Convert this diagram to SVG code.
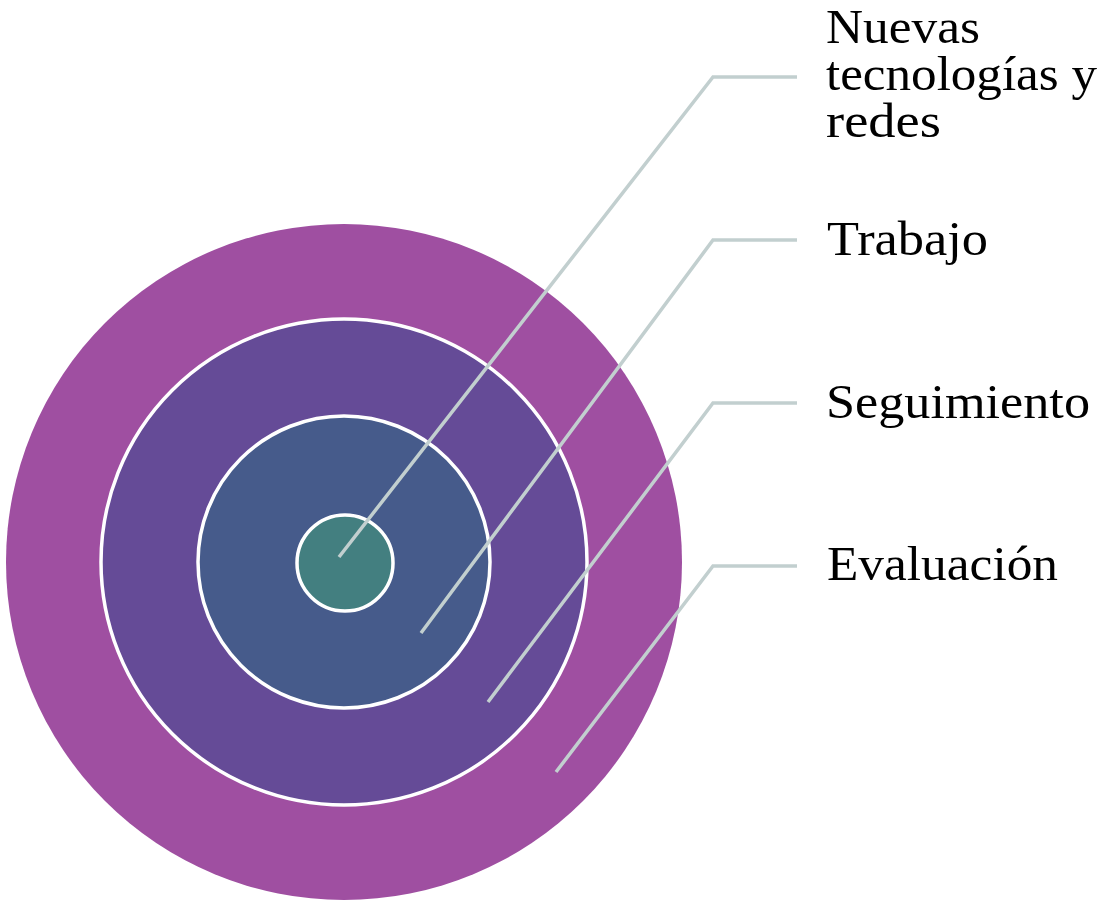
<svg xmlns="http://www.w3.org/2000/svg" width="1105" height="900" viewBox="0 0 1105 900">
<style>
.ring{stroke:#ffffff;stroke-width:3.5}
.conn{fill:none;stroke:#C2CFCF;stroke-width:3.5;stroke-linejoin:miter}
.lbl{font-family:"Liberation Serif","Times New Roman",serif;font-size:48.5px;fill:#000000}
</style>
<rect width="1105" height="900" fill="#ffffff"/>
<g id="node-evaluacion">
<circle cx="344" cy="562" r="338" fill="#9F4FA1"/>
</g>
<g id="node-seguimiento">
<circle class="ring" cx="344" cy="562" r="243" fill="#654B97"/>
</g>
<g id="node-trabajo">
<circle class="ring" cx="344" cy="562" r="146" fill="#465B8B"/>
</g>
<g id="node-nuevas">
<circle class="ring" cx="345" cy="563" r="48" fill="#437F80"/>
</g>
<g id="connectors">
<polyline class="conn" points="339,557 713,77 797,77"/>
<polyline class="conn" points="421,633 713,240 797,240"/>
<polyline class="conn" points="488,702 713,403 797,403"/>
<polyline class="conn" points="556,772 713,566 797,566"/>
</g>
<g id="labels">
<text class="lbl" x="826" y="43" textLength="154" lengthAdjust="spacingAndGlyphs">Nuevas</text>
<text class="lbl" x="826" y="90" textLength="271" lengthAdjust="spacingAndGlyphs">tecnologías y</text>
<text class="lbl" x="826" y="137" textLength="115" lengthAdjust="spacingAndGlyphs">redes</text>
<text class="lbl" x="827" y="255" textLength="161" lengthAdjust="spacingAndGlyphs">Trabajo</text>
<text class="lbl" x="826" y="418" textLength="264" lengthAdjust="spacingAndGlyphs">Seguimiento</text>
<text class="lbl" x="827" y="580" textLength="231" lengthAdjust="spacingAndGlyphs">Evaluación</text>
</g>
</svg>
